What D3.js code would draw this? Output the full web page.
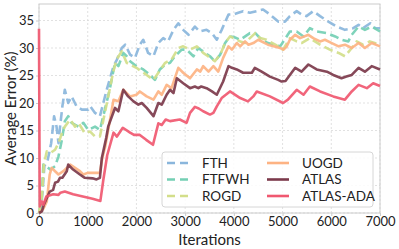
<!DOCTYPE html>
<html>
<head>
<meta charset="utf-8">
<script src="https://cdn.jsdelivr.net/npm/d3@7"></script>
<style>
  body { margin: 0; background: #fff; }
  svg { font-family: Lato, "DejaVu Sans", sans-serif; }
</style>
</head>
<body>
<svg id="chart"></svg>
<script>
// [iteration, average error %]
const FTH = [[0,0],[40,0.5],[80,4.8],[110,8.5],[180,9.7],[250,12.7],[310,17.6],[360,15.7],[400,12.7],[430,15.5],[480,19.4],[530,22.4],[600,20],[670,21.2],[770,19.4],[880,18.8],[1010,18.8],[1050,19.4],[1150,18.2],[1250,17.6],[1390,22.4],[1530,26.7],[1600,27.9],[1700,30.0],[1770,30.6],[1870,28.8],[1970,28.2],[2070,30.6],[2140,31.5],[2240,29.1],[2350,28.5],[2450,30.9],[2550,31.8],[2650,31.2],[2760,33.3],[2860,34.5],[2960,33.3],[3070,32.4],[3200,33.9],[3300,33.0],[3440,33.3],[3550,32.7],[3650,31.5],[3750,33.3],[3890,36.1],[3990,36.1],[4090,36.4],[4190,36.7],[4330,36.4],[4470,36.7],[4600,37.0],[4740,36.1],[4910,34.8],[5050,34.8],[5150,35.8],[5290,36.7],[5390,36.1],[5490,35.8],[5630,36.7],[5770,35.8],[5940,34.8],[6110,33.9],[6280,33.3],[6450,33.6],[6560,34.2],[6650,33.6],[6800,34.5],[6900,33.6],[7000,33.6]];
const FTFWH = [[0,0],[50,2],[90,8.8],[150,8.5],[230,7.9],[330,8.5],[400,10.3],[470,13.3],[530,16.7],[600,17.6],[670,16.4],[810,15.7],[910,16.4],[1010,15.1],[1150,15.7],[1250,15.1],[1450,22.4],[1560,27.3],[1630,26.7],[1730,29.1],[1800,28.5],[1870,27.6],[2000,26.7],[2140,26.1],[2280,25.1],[2380,24.2],[2480,26.1],[2590,27.0],[2690,27.3],[2790,28.5],[2930,29.7],[3030,29.7],[3170,28.5],[3270,30.0],[3410,29.1],[3510,28.5],[3610,27.6],[3720,28.8],[3820,30.9],[3920,32.1],[4000,32.0],[4130,31.5],[4330,32.7],[4440,32.7],[4570,31.5],[4700,30.9],[4950,30.3],[5150,33.0],[5290,33.0],[5430,32.1],[5560,33.6],[5700,33.0],[5910,32.7],[6080,32.1],[6210,31.5],[6350,31.2],[6420,32.4],[6560,33.9],[6690,33.3],[6830,33.9],[7000,33.0]];
const ROGD = [[0,0],[60,3],[100,8.8],[160,11.2],[230,10.9],[330,11.5],[400,12.7],[470,14.5],[530,15.7],[640,17],[740,15.7],[810,16.4],[940,14.5],[1050,14.8],[1150,13.9],[1250,13.9],[1380,19.4],[1520,25.5],[1590,27.9],[1700,29.4],[1800,27.3],[2000,26.4],[2210,25.1],[2350,24.2],[2450,25.5],[2590,27.3],[2720,27.9],[2860,30.0],[2960,30.3],[3100,29.7],[3240,30.3],[3370,29.1],[3470,28.5],[3610,27.6],[3720,28.8],[3820,30.9],[3920,32.1],[4130,31.2],[4230,30.9],[4330,31.8],[4440,32.7],[4540,31.8],[4670,31.5],[4850,30.6],[5010,29.7],[5150,31.8],[5290,31.2],[5390,30.9],[5560,31.8],[5770,30.6],[5970,29.7],[6150,29.1],[6280,28.5],[6420,30.0],[6520,31.2],[6650,30.6],[6790,31.2],[7000,30.6]];
const UOGD = [[0,0],[90,0.8],[160,2.1],[220,7.0],[260,8.2],[330,7.6],[400,7.0],[500,7.6],[570,8.2],[640,8.8],[840,7.6],[910,7.0],[1000,7.3],[1110,7.3],[1250,7.3],[1300,10],[1360,12.1],[1530,20.6],[1630,20.3],[1730,22.4],[1870,21.2],[2000,21.5],[2070,22.1],[2210,21.2],[2350,20.6],[2450,22.1],[2520,21.5],[2620,23.3],[2720,22.7],[2860,26.4],[2960,25.5],[3100,24.5],[3240,26.1],[3310,25.7],[3370,26.7],[3480,25.7],[3580,26.7],[3680,25.7],[3780,28.2],[3890,30.3],[3960,29.7],[4060,30.9],[4130,30.3],[4230,31.2],[4300,30.6],[4400,30.9],[4500,31.5],[4700,30.6],[4950,30.0],[5020,29.7],[5080,30.2],[5150,31.5],[5260,32.4],[5360,31.8],[5530,32.4],[5630,31.8],[5770,31.2],[5870,31.5],[6010,30.9],[6150,30.3],[6280,30.6],[6420,30.0],[6560,30.9],[6690,30.0],[6830,30.9],[7000,30.3]];
const ATLAS = [[0,0],[60,0.3],[100,1.5],[150,2.5],[220,3.9],[290,4.2],[330,5.5],[390,5.7],[430,6.4],[480,6.4],[570,7.6],[600,8.8],[700,7.9],[840,7.0],[940,6.4],[1100,6.3],[1180,6.1],[1250,6.4],[1290,10],[1380,13.7],[1420,15.7],[1560,19.1],[1630,18.5],[1730,22.4],[1830,21.2],[1940,20.3],[2040,19.7],[2110,20.0],[2210,19.1],[2350,17.6],[2450,20.0],[2520,19.7],[2620,21.5],[2690,22.4],[2760,21.8],[2830,24.5],[2960,23.6],[3100,22.7],[3200,23.0],[3270,22.7],[3330,23.0],[3440,22.7],[3550,22.1],[3650,21.5],[3780,23.9],[3890,26.7],[3960,26.4],[4060,26.1],[4190,25.5],[4370,25.5],[4430,26.4],[4570,25.7],[4740,24.8],[4910,24.2],[4980,23.9],[5060,24.0],[5150,25.1],[5260,26.4],[5390,25.7],[5530,27.0],[5700,26.1],[5910,25.7],[6040,25.1],[6210,24.5],[6310,24.8],[6420,25.1],[6560,26.4],[6690,25.7],[6830,26.7],[7000,26.1]];
const ATLAS_ADA = [[0,33.5],[15,1.2],[60,2.1],[90,1.5],[150,3.0],[290,3.4],[400,3.3],[440,3.7],[530,3.9],[700,3.4],[900,3.0],[1100,2.6],[1260,2.2],[1320,6],[1400,10.5],[1530,14.6],[1600,13.9],[1720,15.5],[1870,14.6],[1950,14.2],[2070,14.2],[2200,13.3],[2340,12.4],[2450,16.3],[2520,16.0],[2600,17.0],[2690,16.7],[2890,17.0],[3030,16.4],[3100,18.2],[3200,19.3],[3280,19.0],[3370,18.5],[3510,17.9],[3580,18.2],[3650,19.4],[3750,20.9],[3920,22.1],[4130,20.9],[4290,20.3],[4400,21.2],[4470,22.1],[4740,21.2],[5010,20.0],[5110,20.6],[5290,22.4],[5430,21.5],[5560,23.0],[5770,22.1],[6040,21.2],[6280,20.6],[6420,22.1],[6560,23.3],[6730,22.7],[6860,23.6],[7000,23.1]];

const seriesNames = ["FTH", "FTFWH", "ROGD", "UOGD", "ATLAS", "ATLAS-ADA"];
const seriesData = [FTH, FTFWH, ROGD, UOGD, ATLAS, ATLAS_ADA];
const colors = ["#8ab6dc", "#74cfb4", "#d3de8a", "#fdb383", "#7c3a4b", "#f05870"];
const dashed = [true, true, true, false, false, false];

const xTicks = [0, 1000, 2000, 3000, 4000, 5000, 6000, 7000];
const yTicks = [0, 5, 10, 15, 20, 25, 30, 35];

const width = 399, height = 249;
const margin = {top: 4, right: 19, bottom: 36, left: 39};

const svg = d3.select("#chart")
  .attr("width", width)
  .attr("height", height);

const x = d3.scaleLinear().domain([0, 7000]).range([margin.left, width - margin.right]);
const y = d3.scaleLinear().domain([0, 38]).range([height - margin.bottom, margin.top]);

// grid
svg.append("g")
  .selectAll("line.gx")
  .data(xTicks)
  .join("line")
  .attr("x1", d => x(d)).attr("x2", d => x(d))
  .attr("y1", y(0)).attr("y2", y(38))
  .attr("stroke", "#d9d9d9")
  .attr("stroke-width", 0.8)
  .attr("stroke-dasharray", "2,2");

svg.append("g")
  .selectAll("line.gy")
  .data(yTicks)
  .join("line")
  .attr("x1", x(0)).attr("x2", x(7000))
  .attr("y1", d => y(d)).attr("y2", d => y(d))
  .attr("stroke", "#d9d9d9")
  .attr("stroke-width", 0.8)
  .attr("stroke-dasharray", "2,2");

// frame
svg.append("rect")
  .attr("x", x(0)).attr("y", y(38))
  .attr("width", x(7000) - x(0))
  .attr("height", y(0) - y(38))
  .attr("fill", "none")
  .attr("stroke", "#cccccc")
  .attr("stroke-width", 1);

// axes
const xAxis = svg.append("g")
  .attr("transform", `translate(0,${y(0)})`)
  .call(d3.axisBottom(x).tickValues(xTicks).tickSize(3).tickPadding(1).tickFormat(d3.format("d")));
const yAxis = svg.append("g")
  .attr("transform", `translate(${x(0)},0)`)
  .call(d3.axisLeft(y).tickValues(yTicks).tickSize(3).tickPadding(2));

[xAxis, yAxis].forEach(a => {
  a.select(".domain").remove();
  a.selectAll(".tick line").attr("stroke", "#cccccc");
  a.selectAll(".tick text")
    .attr("fill", "#222")
    .style("font-family", "Lato")
    .style("font-size", "13px");
});

// lines
const line = d3.line().x(d => x(d[0])).y(d => y(d[1]));

seriesData.forEach((data, i) => {
  svg.append("path")
    .datum(data)
    .attr("d", line)
    .attr("fill", "none")
    .attr("stroke", colors[i])
    .attr("stroke-width", 2.6)
    .attr("stroke-opacity", 0.92)
    .attr("stroke-linejoin", "round")
    .attr("stroke-dasharray", dashed[i] ? "9,4.5" : null);
});

// axis titles
svg.append("text")
  .attr("x", (x(0) + x(7000)) / 2)
  .attr("y", 245)
  .attr("text-anchor", "middle")
  .attr("fill", "#222")
  .style("font-size", "15px")
  .text("Iterations");

svg.append("text")
  .attr("transform", `translate(16,${(y(0) + y(38)) / 2}) rotate(-90)`)
  .attr("text-anchor", "middle")
  .attr("fill", "#222")
  .style("font-size", "15px")
  .text("Average Error (%)");

// legend
const legend = svg.append("g");
legend.append("rect")
  .attr("x", 162).attr("y", 152)
  .attr("width", 211).attr("height", 55)
  .attr("rx", 3)
  .attr("fill", "#fff")
  .attr("fill-opacity", 0.85)
  .attr("stroke", "#d6d6d6");

const colX = [167, 267];
const rowY = [163, 179.5, 196];
seriesNames.forEach((name, i) => {
  const cx = colX[Math.floor(i / 3)];
  const cy = rowY[i % 3];
  legend.append("line")
    .attr("x1", cx).attr("x2", cx + 22)
    .attr("y1", cy).attr("y2", cy)
    .attr("stroke", colors[i])
    .attr("stroke-width", 2.6)
    .attr("stroke-dasharray", dashed[i] ? "8,5" : null);
  legend.append("text")
    .attr("x", cx + 35)
    .attr("y", cy)
    .attr("dy", "0.35em")
    .attr("fill", "#222")
    .style("font-size", "13.5px")
    .text(name);
});
</script>
</body>
</html>
